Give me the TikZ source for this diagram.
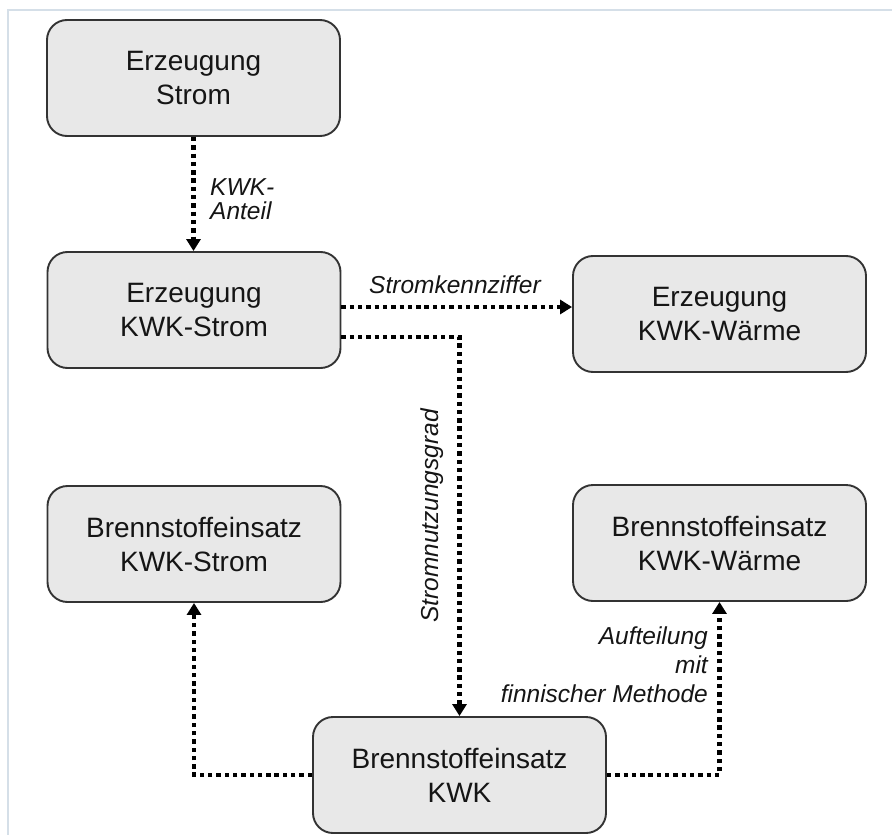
\documentclass[tikz,border=0pt]{standalone}
\usepackage{fontspec}
\setmainfont{Liberation Sans}
\usetikzlibrary{arrows.meta}
\definecolor{boxfill}{HTML}{E8E8E8}
\definecolor{boxline}{HTML}{333333}
\definecolor{framec}{HTML}{D5DFE8}
\definecolor{txt}{HTML}{151515}
\begin{document}
\begin{tikzpicture}[x=1pt,y=-1pt,
  box/.style={draw=boxline, fill=boxfill, line width=1.9pt, rounded corners=20pt,
    minimum width=293pt, minimum height=116pt, align=center, inner sep=0pt,
    text=txt, font=\fontsize{28}{34}\selectfont},
  flow/.style={draw=black, line width=4.2pt, dash pattern=on 4.4pt off 3.9pt,
    -{Triangle[length=12pt,width=14pt]}},
  lbl/.style={inner sep=0pt, text=txt, font=\fontsize{24.5}{29}\selectfont\itshape}]
\useasboundingbox (0,0) rectangle (892,835);
\draw[framec, line width=2pt] (8,835) -- (8,10) -- (892,10);

\node[box] (b1) at (193.5,78) {Erzeugung\\Strom};
\node[box] (b2) at (194,310) {Erzeugung\\KWK-Strom};
\node[box] (b3) at (719.5,314) {Erzeugung\\KWK-Wärme};
\node[box] (b4) at (194,544) {Brennstoffeinsatz\\KWK-Strom};
\node[box] (b5) at (719.5,543) {Brennstoffeinsatz\\KWK-Wärme};
\node[box] (b6) at (459.5,775) {Brennstoffeinsatz\\KWK};

\draw[flow] (b1.south) -- (b1.south |- b2.north);
\draw[flow] ([yshift=3pt]b2.east) -- ([yshift=3pt]b2.east -| b3.west);
\draw[flow] ([yshift=-27pt]b2.east) -| (b6.north);
\draw[flow] (b6.west) -| (b4.south);
\draw[flow] (b6.east) -| (b5.south);

\node[lbl, anchor=north west, align=left, font=\fontsize{24.5}{24}\selectfont\itshape] (l1) at (210,178) {KWK-\\Anteil};
\node[lbl, anchor=base] (l2) at (455,293) {Stromkennziffer};
\node[lbl, rotate=90] (l3) at (432,516) {Stromnutzungsgrad};
\node[lbl, anchor=north east, align=right] (l4) at (708,627) {Aufteilung\\mit\\finnischer Methode};
\end{tikzpicture}
\end{document}
